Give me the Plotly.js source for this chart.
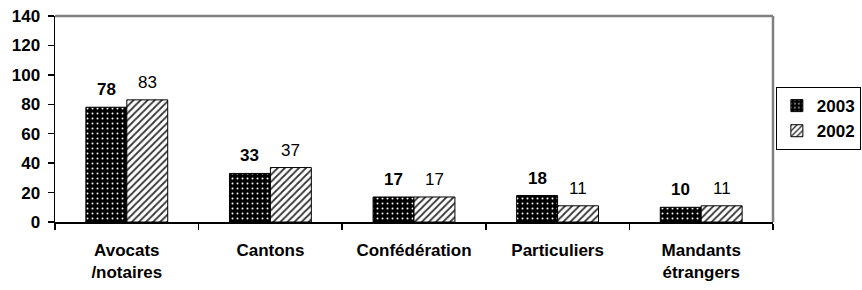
<!DOCTYPE html>
<html>
<head>
<meta charset="utf-8">
<script src="https://cdn.plot.ly/plotly-3.0.1.min.js"></script>
<style>html,body{margin:0;padding:0;background:#fff;}#chart{width:862px;height:290px;}</style>
</head>
<body>
<div id="chart"></div>
<script>
const categories = ["Avocats<br>/notaires", "Cantons", "Confédération", "Particuliers", "Mandants<br>étrangers"];
const seriesNames = ["2003", "2002"];
const values2003 = [78, 33, 17, 18, 10];
const values2002 = [83, 37, 17, 11, 11];
const yTicks = [0, 20, 40, 60, 80, 100, 120, 140];

const FONT = "Liberation Sans, Arial, sans-serif";

const traces = [
  {
    type: "bar", name: seriesNames[0], x: categories, y: values2003,
    marker: {
      color: "#000000",
      line: {color: "#000000", width: 1},
      pattern: {shape: ".", fgcolor: "#ffffff", bgcolor: "#000000", size: 5, solidity: 0.12}
    },
    hoverinfo: "skip"
  },
  {
    type: "bar", name: seriesNames[1], x: categories, y: values2002,
    marker: {
      color: "#ffffff",
      line: {color: "#000000", width: 1},
      pattern: {shape: "/", fgcolor: "#333333", bgcolor: "#ffffff", size: 5, solidity: 0.35}
    },
    hoverinfo: "skip"
  }
];

const annotations = [];
categories.forEach((c, i) => {
  annotations.push({x: c, y: values2003[i], xref: "x", yref: "y", text: String(values2003[i]),
    showarrow: false, xshift: -20.5, yshift: 6, yanchor: "bottom",
    font: {family: FONT, size: 17, color: "#000", weight: "bold"}});
  annotations.push({x: c, y: values2002[i], xref: "x", yref: "y", text: String(values2002[i]),
    showarrow: false, xshift: 20.5, yshift: 6, yanchor: "bottom",
    font: {family: FONT, size: 17, color: "#000"}});
});

const layout = {
  width: 862, height: 290,
  margin: {l: 55, r: 89, t: 16, b: 68, autoexpand: false},
  paper_bgcolor: "#ffffff", plot_bgcolor: "#ffffff",
  barmode: "group", bargap: 0.43, bargroupgap: 0,
  font: {family: FONT, size: 17, color: "#000"},
  xaxis: {
    type: "category", automargin: false,
    showline: true, linecolor: "#000", linewidth: 1.5,
    ticks: "outside", tickson: "boundaries", ticklen: 6, tickcolor: "#000", tickwidth: 1.5,
    ticklabelstandoff: 12,
    tickfont: {family: FONT, size: 17, color: "#000", weight: "bold"},
    showgrid: false, zeroline: false, fixedrange: true
  },
  yaxis: {
    range: [0, 140], tickvals: yTicks, ticktext: yTicks.map(String), automargin: false,
    showline: true, linecolor: "#000", linewidth: 1.5,
    ticks: "outside", ticklen: 6, tickcolor: "#000", tickwidth: 1.5,
    ticklabelstandoff: 4,
    tickfont: {family: FONT, size: 17, color: "#000", weight: "bold"},
    showgrid: false, zeroline: false, fixedrange: true
  },
  shapes: [
    {type: "line", xref: "paper", yref: "paper", x0: 0, x1: 1, y0: 1, y1: 1, line: {color: "#808080", width: 2.5}},
    {type: "line", xref: "paper", yref: "paper", x0: 1, x1: 1, y0: 0, y1: 1, line: {color: "#808080", width: 2.5}}
  ],
  annotations: annotations,
  showlegend: true,
  legend: {
    x: 1.004, y: 0.655, xanchor: "left", yanchor: "top",
    bordercolor: "#000", borderwidth: 1, bgcolor: "#fff",
    font: {family: FONT, size: 17, color: "#000", weight: "bold"},
    traceorder: "normal", itemwidth: 30
  }
};

Plotly.newPlot("chart", traces, layout, {displayModeBar: false, staticPlot: true});
</script>
</body>
</html>
